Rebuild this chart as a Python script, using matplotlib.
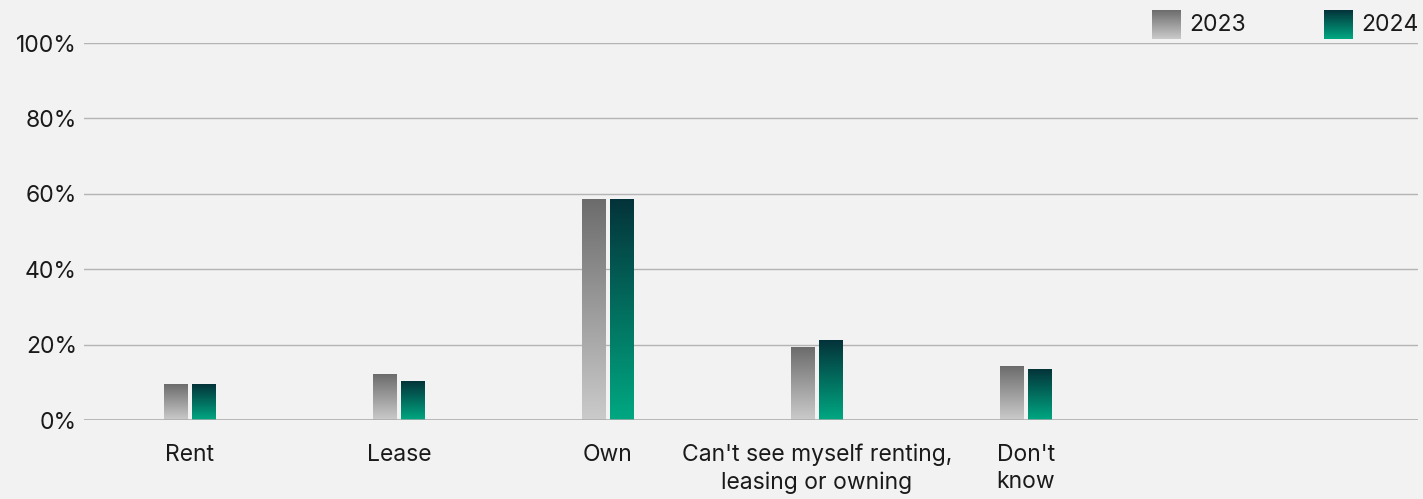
import matplotlib
matplotlib.use("Agg")
import matplotlib.pyplot as plt
import numpy as np
from matplotlib.colors import LinearSegmentedColormap

categories = ["Rent", "Lease", "Own", "Can't see myself renting,\nleasing or owning", "Don't\nknow"]
years = ["2023", "2024"]
values_2023 = [9.3, 12.2, 58.4, 19.1, 14.3]
values_2024 = [9.3, 10.1, 58.4, 21.2, 13.3]
y_ticks = [0, 20, 40, 60, 80, 100]

BG = "#f2f2f2"
TEXT = "#1a1a1a"
GRID = "#b4b4b4"
FS = 16.5
# bottom colour -> top colour
CMAP_2023 = LinearSegmentedColormap.from_list("g23", ["#cbcbcc", "#6c6c6c"])
CMAP_2024 = LinearSegmentedColormap.from_list("g24", ["#00a882", "#04333a"])

plt.rcParams["font.family"] = ["Inter", "DejaVu Sans"]

fig = plt.figure(figsize=(14.23, 4.99), dpi=100, facecolor=BG)
ax = fig.add_axes([0.059, 0.1583, 0.9375, 0.7555], facecolor=BG)

grad = np.linspace(0, 1, 256).reshape(-1, 1)
x = np.arange(len(categories))
width = 0.112
offset = 0.066


def gradient_bars(xs, heights, cmap):
    bars = ax.bar(xs, heights, width, color="none", edgecolor="none", zorder=3)
    for b in bars:
        x0, y0 = b.get_x(), b.get_y()
        ax.imshow(grad, cmap=cmap, origin="lower", aspect="auto",
                  extent=(x0, x0 + b.get_width(), y0, y0 + b.get_height()),
                  zorder=3, interpolation="bilinear")


gradient_bars(x - offset, values_2023, CMAP_2023)
gradient_bars(x + offset, values_2024, CMAP_2024)

ax.set_xlim(-0.507, 5.876)
ax.set_ylim(0, 100)
ax.set_yticks(y_ticks)
ax.set_yticklabels([f"{t}%" for t in y_ticks])
ax.set_xticks(x)
ax.set_xticklabels(categories)
ax.tick_params(axis="y", length=0, pad=5, labelsize=FS, labelcolor=TEXT)
ax.tick_params(axis="x", length=0, pad=17, labelsize=FS, labelcolor=TEXT)
for t in ax.get_xticklabels():
    t.set_multialignment("center")
    t.set_linespacing(1.3)

ax.grid(axis="y", color=GRID, linewidth=1.0, zorder=0)
for s in ax.spines.values():
    s.set_visible(False)
ax.axhline(0, color="#aaaaaa", linewidth=1.8, zorder=4)

# legend with gradient swatches
legend_items = [(years[0], CMAP_2023, 1152), (years[1], CMAP_2024, 1324)]
W, H = 1423, 499
for label, cmap, px in legend_items:
    sw = fig.add_axes([px / W, 1 - 39 / H, 29 / W, 29 / H])
    sw.imshow(grad, cmap=cmap, origin="lower", aspect="auto")
    sw.set_axis_off()
    fig.text((px + 37) / W, 1 - 25 / H, label, fontsize=FS, color=TEXT,
             va="center", ha="left")

fig.savefig("out.png", dpi=100, facecolor=BG)
